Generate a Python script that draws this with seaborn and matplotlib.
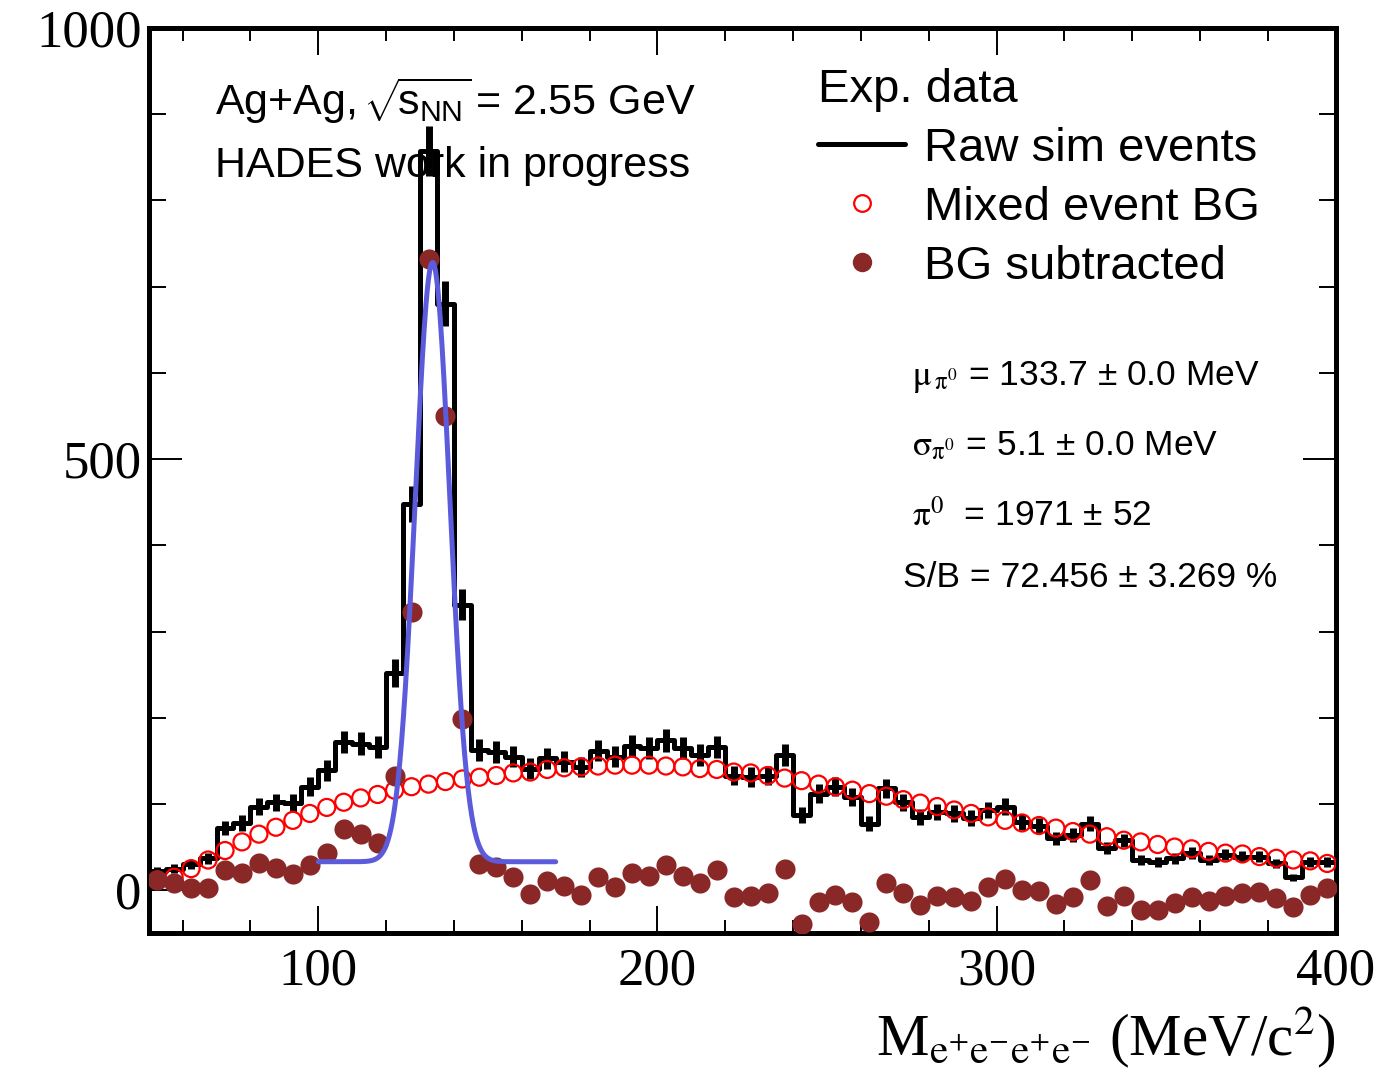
import numpy as np
import pandas as pd
import matplotlib
matplotlib.use("Agg")
import matplotlib.pyplot as plt
from matplotlib.lines import Line2D
from matplotlib.ticker import MultipleLocator
import seaborn as sns

# 5 MeV/c^2 bins between 50 and 400
bin_edges = list(range(50, 401, 5))
bin_centers = [e + 2.5 for e in bin_edges[:-1]]

# raw sim events (histogram) and their errors
raw_counts = [22, 25, 30, 37, 72, 78, 97, 102, 101, 120,
              139, 172, 170, 166, 252, 448, 857, 680, 331, 163,
              160, 155, 141, 153, 149, 143, 162, 155, 167, 165,
              174, 165, 157, 166, 133, 131, 133, 157, 87, 112,
              120, 108, 77, 118, 102, 85, 91, 89, 84, 93,
              97, 79, 75, 60, 64, 77, 49, 58, 35, 33,
              37, 43, 35, 41, 39, 39, 31, 15, 33, 33]
raw_err = [4.7, 5.0, 5.5, 6.1, 8.5, 8.8, 9.8, 10.1, 10.0, 11.0,
           11.8, 13.1, 13.0, 12.9, 15.9, 21.2, 29.3, 26.1, 18.2, 12.8,
           12.6, 12.4, 11.9, 12.4, 12.2, 12.0, 12.7, 12.4, 12.9, 12.8,
           13.2, 12.8, 12.5, 12.9, 11.5, 11.4, 11.5, 12.5, 9.3, 10.6,
           11.0, 10.4, 8.8, 10.9, 10.1, 9.2, 9.5, 9.4, 9.2, 9.6,
           9.8, 8.9, 8.7, 7.7, 8.0, 8.8, 7.0, 7.6, 5.9, 5.7,
           6.1, 6.6, 5.9, 6.4, 6.2, 6.2, 5.6, 3.9, 5.7, 5.7]

# mixed event background
mixed_bg = [12, 15, 25, 35, 46, 56, 65, 73, 81, 89,
            96, 102, 107, 111, 116, 120, 123, 126, 129, 131,
            133, 136, 137, 140, 142, 143, 144, 145, 145, 145,
            144, 143, 141, 140, 137, 136, 133, 130, 127, 123,
            120, 116, 112, 109, 105, 101, 97, 93, 89, 85,
            81, 78, 75, 72, 68, 65, 62, 58, 56, 53,
            50, 48, 45, 43, 42, 39, 37, 35, 34, 31]

# background subtracted
bg_sub = [12, 8, 2, 2, 23, 20, 32, 26, 19, 29,
          43, 71, 65, 55, 133, 323, 732, 550, 198, 30,
          27, 15, -4, 11, 5, -6, 15, 4, 20, 17,
          29, 17, 8, 23, -8, -7, -3, 24, -39, -14,
          -6, -14, -37, 8, -3, -17, -7, -8, -12, 4,
          13, 0, -1, -16, -8, 12, -18, -7, -23, -23,
          -15, -8, -13, -7, -3, -2, -9, -20, -5, 2]

# gaussian + constant fit
fit_mu = 133.7
fit_sigma = 5.1
fit_amp = 695
fit_const = 33
fit_lo, fit_hi = 100, 170

df = pd.DataFrame({"mass": bin_centers, "raw": raw_counts, "err": raw_err,
                   "mixed": mixed_bg, "sub": bg_sub})

sns.set_style("ticks")
plt.rcParams['font.family'] = ['Liberation Sans', 'DejaVu Sans']
plt.rcParams['mathtext.rm'] = 'Liberation Sans'
plt.rcParams['mathtext.it'] = 'Liberation Sans:italic'
for key in ['text.color', 'axes.labelcolor', 'xtick.color', 'ytick.color',
            'axes.edgecolor']:
    plt.rcParams[key] = 'black'

fig, ax = plt.subplots(figsize=(13.77, 10.74), dpi=100)
fig.subplots_adjust(left=0.108, right=0.970, top=0.974, bottom=0.131)

sns.histplot(data=df, x="mass", weights="raw", bins=bin_edges, element="step",
             fill=False, color="black", linewidth=3.6, ax=ax)
ax.errorbar(df["mass"], df["raw"], yerr=df["err"], fmt="none",
            ecolor="black", elinewidth=5, capsize=0)

sns.scatterplot(data=df, x="mass", y="mixed", s=150, marker="o",
                facecolor="none", edgecolor="red", linewidth=1.6, ax=ax, zorder=3)
sns.scatterplot(data=df, x="mass", y="sub", s=210, color="#8a2828",
                linewidth=0, ax=ax, zorder=4)

fit_x = np.linspace(fit_lo, fit_hi, 400)
fit_y = fit_const + fit_amp * np.exp(-0.5 * ((fit_x - fit_mu) / fit_sigma) ** 2)
sns.lineplot(x=fit_x, y=fit_y, color="#5b5bdc", linewidth=3.6, estimator=None,
             ax=ax, zorder=5)

ax.set_xlim(50, 400)
ax.set_ylim(-50, 1000)
ax.set_ylabel("")
ax.xaxis.set_major_locator(MultipleLocator(100))
ax.xaxis.set_minor_locator(MultipleLocator(20))
ax.yaxis.set_major_locator(MultipleLocator(500))
ax.yaxis.set_minor_locator(MultipleLocator(100))
ax.tick_params(which="both", direction="in", top=True, right=True,
               width=1.4, color="black", labelcolor="black", labelsize=38)
ax.tick_params(axis="x", which="major", length=19.5, pad=10)
ax.tick_params(axis="x", which="minor", length=9.5)
ax.tick_params(axis="y", which="major", length=24, pad=5)
ax.tick_params(axis="y", which="minor", length=12)
for lab in ax.get_xticklabels() + ax.get_yticklabels():
    lab.set_family("Liberation Serif")
for sp in ax.spines.values():
    sp.set_linewidth(3.6)
    sp.set_color("black")

ax.set_xlabel(r"M$_{\mathrm{e^{+}e^{-}e^{+}e^{-}}}$ (MeV/c$^{\mathrm{2}}$)",
              loc="right", fontsize=42.5, family="Liberation Serif",
              math_fontfamily="stix", labelpad=8, color="black")

handles = [
    Line2D([], [], color="black", linewidth=3.6),
    Line2D([], [], marker="o", linestyle="none", markersize=12,
           markerfacecolor="none", markeredgecolor="red", markeredgewidth=1.6),
    Line2D([], [], marker="o", linestyle="none", markersize=14,
           markerfacecolor="#8a2828", markeredgecolor="none"),
]
labels = ["Raw sim events", "Mixed event BG", "BG subtracted"]
leg = ax.legend(handles, labels, title="Exp. data", alignment="left",
                loc="upper left", bbox_to_anchor=(0.594, 0.937),
                bbox_transform=fig.transFigure, frameon=False,
                fontsize=34, title_fontsize=34, handlelength=1.85,
                handletextpad=0.4, labelspacing=0.32, borderpad=0,
                borderaxespad=0, labelcolor="black")
leg.get_title().set_color("black")

fig.text(0.156, 0.893,
         r"Ag+Ag, $\!\sqrt{\!\mathrm{s}_{\mathrm{NN}}}\!$ = 2.55 GeV",
         fontsize=31, math_fontfamily="custom", va="baseline")
fig.text(0.156, 0.835, "HADES work in progress", fontsize=31, va="baseline")

fig.text(0.662, 0.6415, r"$\mathrm{\mu}_{\,\mathrm{\pi}^{0}}$ = 133.7 ± 0.0 MeV",
         fontsize=25.5, math_fontfamily="stix", va="baseline")
fig.text(0.662, 0.5763, r"$\mathrm{\sigma}_{\mathrm{\pi}^{0}}$ = 5.1 ± 0.0 MeV",
         fontsize=25.5, math_fontfamily="stix", va="baseline")
fig.text(0.662, 0.5102, r"$\mathrm{\pi}^{0}$  = 1971 ± 52",
         fontsize=25.5, math_fontfamily="stix", va="baseline")
fig.text(0.656, 0.4535, "S/B = 72.456 ± 3.269 %", fontsize=25.5, va="baseline")

fig.savefig("out.png", dpi=100)
